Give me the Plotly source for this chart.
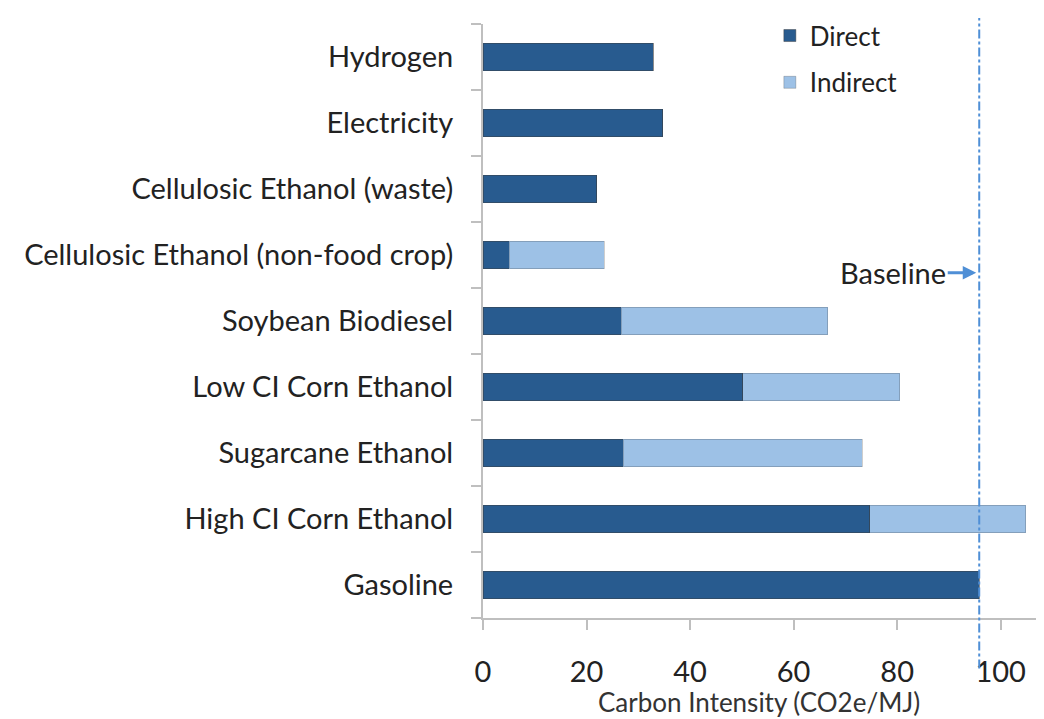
import plotly.graph_objects as go

categories = ["Gasoline", "High CI Corn Ethanol", "Sugarcane Ethanol", "Low CI Corn Ethanol",
              "Soybean Biodiesel", "Cellulosic Ethanol (non-food crop)",
              "Cellulosic Ethanol (waste)", "Electricity", "Hydrogen"]
direct = [95.9, 74.7, 27.1, 50.2, 26.7, 5.1, 22.0, 34.7, 32.9]
indirect = [0, 30.1, 46.2, 30.3, 39.9, 18.3, 0, 0, 0]
baseline = 95.86
x_ticks = [0, 20, 40, 60, 80, 100]

FONT = "Lato"
DIRECT_C = "#285B8F"
INDIRECT_C = "#9DC1E6"
AXIS_C = "#BFBFBF"
BASE_C = "#4F8FD6"
TEXT_C = "#222222"

fig = go.Figure()
fig.add_trace(go.Bar(y=categories, x=direct, orientation="h", name="Direct",
                     marker=dict(color=DIRECT_C, line=dict(color="rgba(60,60,60,0.45)", width=1)),
                     width=0.41, legendgroup="d"))
fig.add_trace(go.Bar(y=categories, x=indirect, orientation="h", name="Indirect",
                     marker=dict(color=INDIRECT_C, line=dict(color="rgba(60,60,60,0.25)", width=1)),
                     width=0.41, legendgroup="i"))

fig.add_shape(type="line", xref="x", yref="paper", x0=baseline, x1=baseline, y0=-0.085, y1=1.01,
              line=dict(color=BASE_C, width=2, dash="dashdot"))

fig.add_annotation(x=baseline, y=4.73, xref="x", yref="y", text="Baseline",
                   showarrow=True, ax=-86, ay=0, arrowhead=2, arrowsize=0.9, arrowwidth=3,
                   arrowcolor=BASE_C, standoff=3,
                   font=dict(family=FONT, size=29, color=TEXT_C))

fig.add_annotation(x=0.495, y=-0.142, xref="paper", yref="paper", text="Carbon Intensity (CO2e/MJ)",
                   showarrow=False, xanchor="center", yanchor="middle",
                   font=dict(family=FONT, size=26, color="#333333"))

# the page body has an 8px margin, so the figure is sized and offset to compensate
fig.update_layout(
    barmode="stack",
    width=1036, height=711,
    margin=dict(l=475, r=4, t=6, b=101),
    plot_bgcolor="white", paper_bgcolor="white",
    font=dict(family=FONT, color=TEXT_C),
    legend=dict(x=0.515, y=1.02, xanchor="left", yanchor="top", traceorder="grouped",
                tracegroupgap=10, font=dict(family=FONT, size=26, color=TEXT_C),
                bgcolor="rgba(0,0,0,0)", itemwidth=30),
    xaxis=dict(range=[0, 107.6], tickvals=x_ticks, ticktext=[str(t) for t in x_ticks],
               showgrid=False, zeroline=False, showline=True, linecolor=AXIS_C, linewidth=2,
               ticks="outside", ticklen=10, tickcolor=AXIS_C, tickwidth=2,
               ticklabelstandoff=17, tickfont=dict(family=FONT, size=29, color=TEXT_C)),
    yaxis=dict(showgrid=False, zeroline=False, showline=True, linecolor=AXIS_C, linewidth=2,
               ticks="outside", ticklen=10, tickcolor=AXIS_C, tickwidth=2, tickson="boundaries",
               ticklabelstandoff=22, tickfont=dict(family=FONT, size=29, color=TEXT_C)),
)

fig.write_html("out.html")
